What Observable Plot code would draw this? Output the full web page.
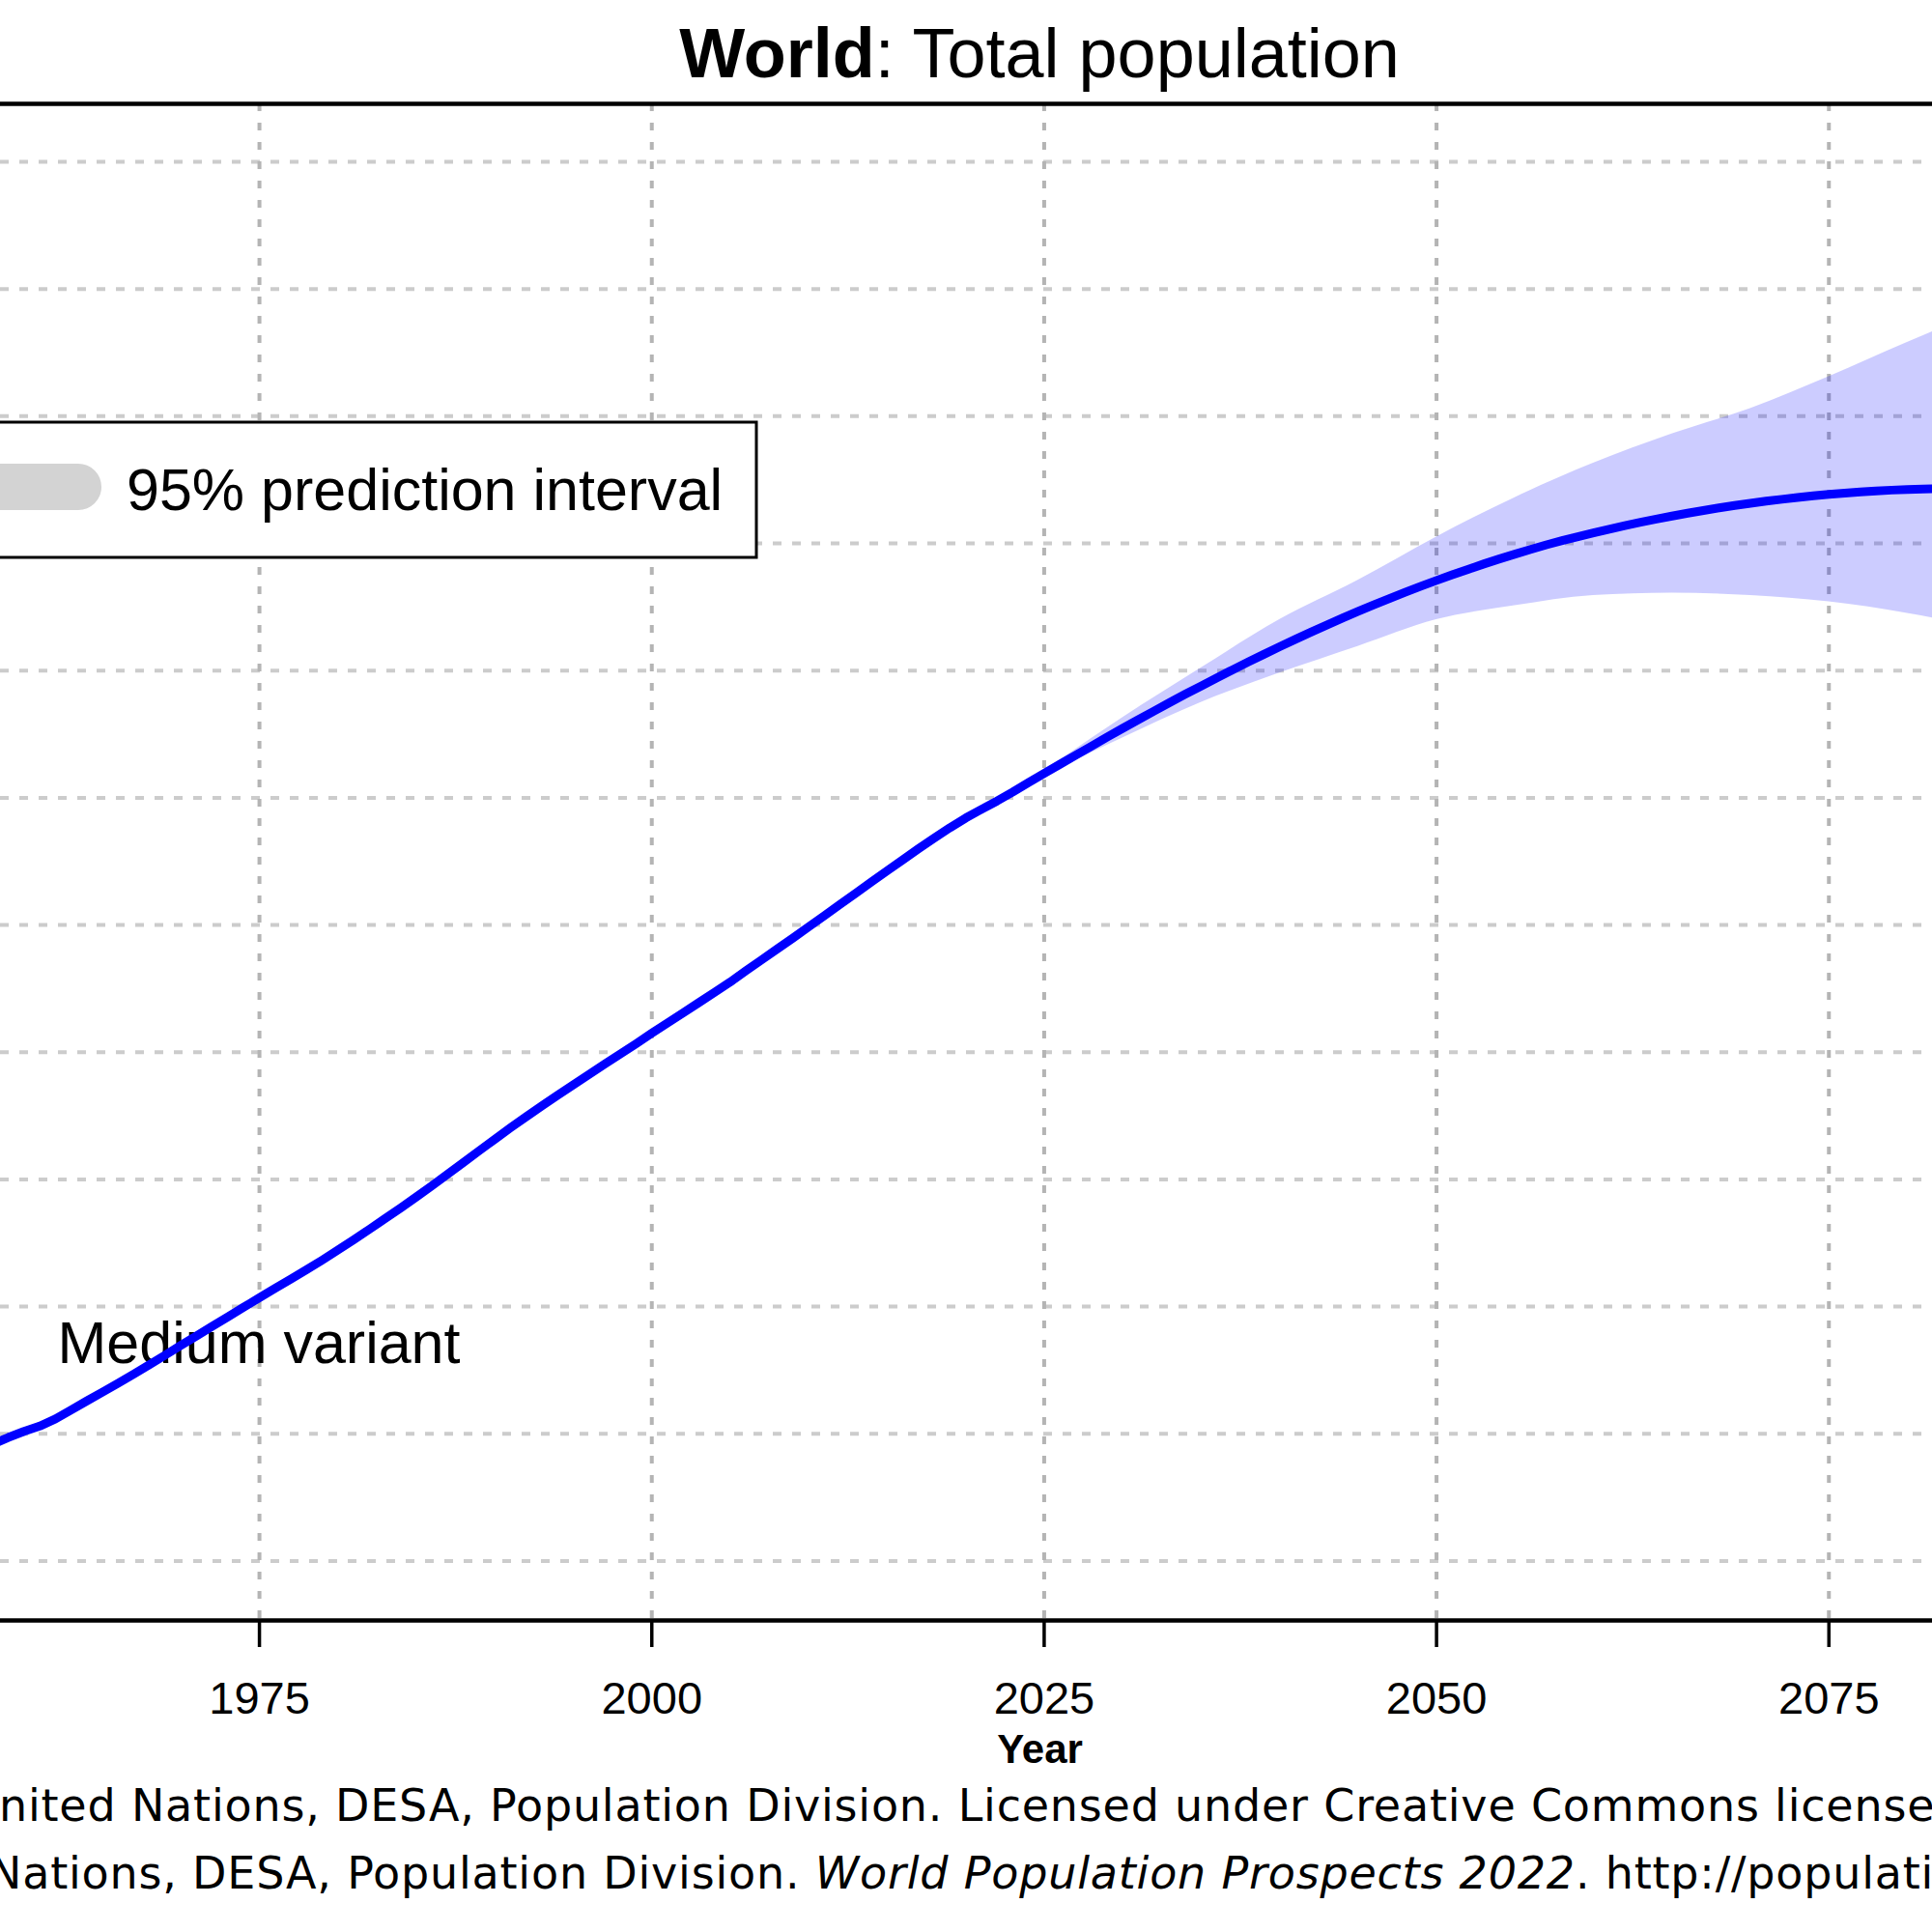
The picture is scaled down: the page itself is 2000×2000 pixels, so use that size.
<!DOCTYPE html>
<html>
<head>
<meta charset="utf-8">
<script src="https://cdn.jsdelivr.net/npm/d3@7"></script>
<script src="https://cdn.jsdelivr.net/npm/@observablehq/plot@0.6"></script>
<style>
  html, body { margin: 0; padding: 0; background: #fff; }
  #chart svg { display: block; }
</style>
</head>
<body>
<div id="chart"></div>
<script>
// ---- Data (World total population, billions) ----
const firstYear = 1955;
const population = [
  2.746, 2.804, 2.862, 2.918, 2.971, 3.019, 3.060, 3.116, 3.187, 3.258,
  3.327, 3.398, 3.469, 3.543, 3.619, 3.695, 3.770, 3.845, 3.920, 3.995,
  4.070, 4.143, 4.216, 4.289, 4.365, 4.444, 4.524, 4.607, 4.691, 4.775,
  4.862, 4.951, 5.042, 5.133, 5.225, 5.316, 5.406, 5.493, 5.578, 5.661,
  5.744, 5.825, 5.906, 5.986, 6.066, 6.149, 6.229, 6.310, 6.390, 6.471,
  6.552, 6.641, 6.726, 6.812, 6.898, 6.986, 7.073, 7.162, 7.250, 7.339,
  7.427, 7.513, 7.600, 7.684, 7.765, 7.841, 7.909, 7.975, 8.045, 8.119,
  8.192, 8.263, 8.334, 8.405, 8.476, 8.546, 8.614, 8.682, 8.749, 8.815,
  8.879, 8.943, 9.006, 9.068, 9.128, 9.188, 9.246, 9.303, 9.358, 9.413,
  9.466, 9.517, 9.567, 9.616, 9.663, 9.709, 9.753, 9.796, 9.838, 9.878,
  9.916, 9.953, 9.989, 10.022, 10.053, 10.083, 10.112, 10.140, 10.166, 10.191,
  10.215, 10.238, 10.259, 10.279, 10.298, 10.316, 10.332, 10.347, 10.361, 10.374,
  10.385, 10.395, 10.404, 10.412, 10.419, 10.424, 10.428, 10.431, 10.432, 10.432,
  10.431
];
const years = population.map((_, i) => firstYear + i);

// 95% prediction interval
const bandYears = [2022, 2025, 2030, 2035, 2040, 2045, 2050, 2055, 2060, 2065, 2070, 2075, 2080, 2085];
const bandLower = [7.975, 8.170, 8.470, 8.750, 8.980, 9.190, 9.400, 9.510, 9.590, 9.610, 9.590, 9.540, 9.450, 9.330];
const bandUpper = [7.975, 8.215, 8.630, 9.020, 9.400, 9.710, 10.050, 10.360, 10.630, 10.860, 11.060, 11.310, 11.580, 11.840];

const xTicks = [1975, 2000, 2025, 2050, 2075];
const xGrid = [1950, 1975, 2000, 2025, 2050, 2075, 2100];
const yGrid = [1, 2, 3, 4, 5, 6, 7, 8, 9, 10, 11, 12, 13, 14];
const yDomain = [1.532, 13.456];
const xDomain = [1958.5, 2081.6];

const titleBold = "World";
const titleRest = ": Total population";
const xLabel = "Year";
const legendLabel = "95% prediction interval";
const lineLabel = "Medium variant";
const caption1 = "\u00A9 2022 United Nations, DESA, Population Division. Licensed under Creative Commons license CC BY 3.0 IGO.";
const caption2a = "United Nations, DESA, Population Division. ";
const caption2b = "World Population Prospects 2022";
const caption2c = ". http://population.un.org/wpp/";

// ---- Build tables ----
const series = years.map((year, i) => ({year, pop: population[i]}));
const band = bandYears.map((year, i) => ({year, lower: bandLower[i], upper: bandUpper[i]}));

const sans = "'Liberation Sans', Arial, Helvetica, sans-serif";

const plot = Plot.plot({
  width: 2000,
  height: 2000,
  marginLeft: 0,
  marginRight: 0,
  marginTop: 107,
  marginBottom: 323,
  style: {background: "white", fontFamily: sans, color: "black"},
  x: {domain: xDomain},
  y: {domain: yDomain, axis: null},
  marks: [
    Plot.ruleY(yGrid, {stroke: "#cccccc", strokeWidth: 4, strokeDasharray: "9,11", clip: true}),
    Plot.ruleX(xGrid, {stroke: "#b4b4b4", strokeWidth: 4, strokeDasharray: "8,12", clip: true}),
    Plot.areaY(band, {x: "year", y1: "lower", y2: "upper", fill: "blue", fillOpacity: 0.2, curve: "monotone-x", clip: true}),
    Plot.ruleY(yDomain, {stroke: "black", strokeWidth: 4.5}),
    Plot.axisX(xTicks, {tickSize: 28, tickPadding: 35, fontSize: 47, strokeWidth: 3.5, tickFormat: d => String(d), label: null}),
    Plot.text([lineLabel], {text: d => d, frameAnchor: "top-left", textAnchor: "start", lineAnchor: "bottom", dx: 59, dy: 1303, fontSize: 61, fill: "black"}),
    Plot.lineY(series, {x: "year", y: "pop", stroke: "blue", strokeWidth: 9, clip: true}),
    Plot.text([xLabel], {text: d => d, frameAnchor: "bottom", lineAnchor: "bottom", dx: 76, dy: 147, fontSize: 42, fontWeight: "bold", fill: "black"})
  ]
});

document.getElementById("chart").appendChild(plot);
const svg = d3.select(plot);

// Title
const title = svg.append("text")
  .attr("x", 1076).attr("y", 80)
  .attr("text-anchor", "middle")
  .attr("font-family", sans).attr("font-size", 72).attr("fill", "black");
title.append("tspan").attr("font-weight", "bold").text(titleBold);
title.append("tspan").text(titleRest);

// Legend
const lg = svg.append("g").attr("font-family", sans).attr("text-anchor", "start");
lg.append("rect").attr("x", -20).attr("y", 437).attr("width", 803).attr("height", 140)
  .attr("fill", "white").attr("stroke", "black").attr("stroke-width", 3);
lg.append("line").attr("x1", -60).attr("x2", 81).attr("y1", 504).attr("y2", 504)
  .attr("stroke", "#d3d3d3").attr("stroke-width", 48).attr("stroke-linecap", "round");
lg.append("text").attr("x", 131).attr("y", 528).attr("font-size", 61)
  .attr("text-anchor", "start").attr("fill", "black").text(legendLabel);

// Captions
const cap = svg.append("g")
  .attr("font-family", "'DejaVu Sans', Verdana, sans-serif")
  .attr("text-anchor", "start")
  .attr("letter-spacing", "0.8px")
  .attr("font-size", 46).attr("fill", "black");
const t1 = cap.append("text").attr("y", 1885).attr("text-anchor", "start").text(caption1);
const k1 = caption1.indexOf("nited");
t1.attr("x", -t1.node().getSubStringLength(0, k1) - 1);

const t2 = cap.append("text").attr("y", 1955).attr("text-anchor", "start");
t2.append("tspan").text(caption2a);
t2.append("tspan").attr("font-style", "italic").text(caption2b);
t2.append("tspan").text(caption2c);
const k2 = caption2a.indexOf("Nations");
t2.attr("x", -t2.node().getSubStringLength(0, k2) - 12);
</script>
</body>
</html>
